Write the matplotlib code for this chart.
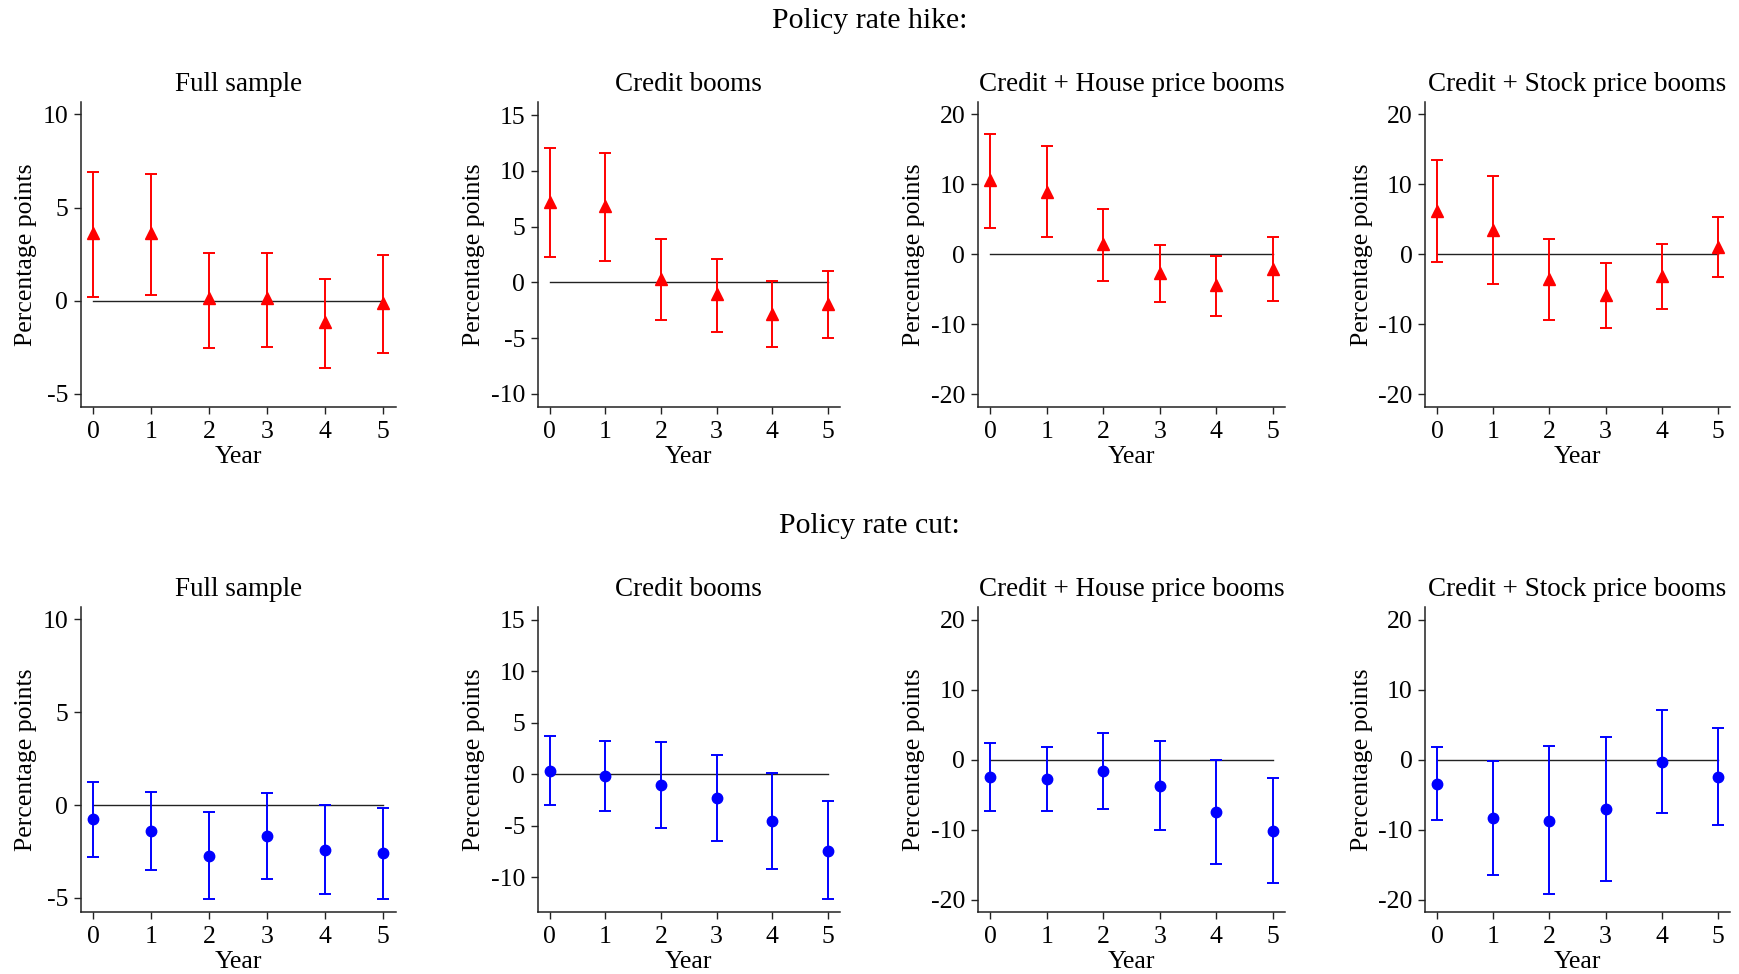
import matplotlib
matplotlib.use("Agg")
import matplotlib.pyplot as plt

plt.rcParams['font.family'] = ['Liberation Serif', 'DejaVu Serif']
plt.rcParams['axes.unicode_minus'] = False

years = [0, 1, 2, 3, 4, 5]
panel_titles = ["Full sample", "Credit booms", "Credit + House price booms", "Credit + Stock price booms"]
row_titles = ["Policy rate hike:", "Policy rate cut:"]

# Policy rate hike
hike_full_est = [3.61, 3.61, 0.13, 0.12, -1.16, -0.14]
hike_full_lo = [0.18, 0.29, -2.52, -2.47, -3.63, -2.83]
hike_full_hi = [6.92, 6.80, 2.56, 2.58, 1.16, 2.47]

hike_credit_est = [7.23, 6.82, 0.33, -1.07, -2.80, -1.93]
hike_credit_lo = [2.32, 1.93, -3.39, -4.43, -5.77, -4.97]
hike_credit_hi = [12.05, 11.58, 3.90, 2.14, 0.09, 1.04]

hike_house_est = [10.6, 8.95, 1.43, -2.71, -4.43, -2.10]
hike_house_lo = [3.8, 2.48, -3.86, -6.90, -8.81, -6.76]
hike_house_hi = [17.2, 15.4, 6.48, 1.33, -0.29, 2.48]

hike_stock_est = [6.24, 3.48, -3.52, -5.90, -3.19, 1.00]
hike_stock_lo = [-1.19, -4.33, -9.48, -10.5, -7.86, -3.33]
hike_stock_hi = [13.5, 11.2, 2.19, -1.33, 1.38, 5.29]

# Policy rate cut
cut_full_est = [-0.77, -1.38, -2.75, -1.67, -2.41, -2.60]
cut_full_lo = [-2.78, -3.48, -5.08, -3.97, -4.79, -5.04]
cut_full_hi = [1.24, 0.72, -0.38, 0.65, 0.0, -0.14]

cut_credit_est = [0.36, -0.16, -1.07, -2.27, -4.53, -7.41]
cut_credit_lo = [-2.98, -3.53, -5.18, -6.44, -9.22, -12.14]
cut_credit_hi = [3.72, 3.27, 3.11, 1.91, 0.13, -2.62]

cut_house_est = [-2.43, -2.77, -1.62, -3.72, -7.49, -10.16]
cut_house_lo = [-7.25, -7.39, -7.01, -10.06, -14.83, -17.55]
cut_house_hi = [2.43, 1.86, 3.86, 2.67, 0.0, -2.67]

cut_stock_est = [-3.39, -8.39, -8.68, -7.06, -0.33, -2.43]
cut_stock_lo = [-8.54, -16.5, -19.2, -17.3, -7.67, -9.35]
cut_stock_hi = [1.86, -0.19, 1.96, 3.24, 7.10, 4.53]

yticks_list = [[-5, 0, 5, 10], [-10, -5, 0, 5, 10, 15], [-20, -10, 0, 10, 20], [-20, -10, 0, 10, 20]]

rows = [
    [(hike_full_est, hike_full_lo, hike_full_hi), (hike_credit_est, hike_credit_lo, hike_credit_hi),
     (hike_house_est, hike_house_lo, hike_house_hi), (hike_stock_est, hike_stock_lo, hike_stock_hi)],
    [(cut_full_est, cut_full_lo, cut_full_hi), (cut_credit_est, cut_credit_lo, cut_credit_hi),
     (cut_house_est, cut_house_lo, cut_house_hi), (cut_stock_est, cut_stock_lo, cut_stock_hi)],
]

ylims = [
    [(-5.72, 10.68), (-11.2, 16.2), (-21.9, 21.8), (-21.9, 21.8)],
    [(-5.78, 10.65), (-13.4, 16.2), (-21.8, 21.8), (-21.8, 21.8)],
]

W, H = 1739, 974
fig = plt.figure(figsize=(W / 100, H / 100), dpi=100)

col_lr = [(80.7, 396.0), (537.7, 840.0), (977.7, 1285.3), (1425.0, 1730.0)]
row_tb = [(101.7, 407.3), (607.3, 912.3)]
styles = [dict(marker='^', color='#ff0000', ms=8), dict(marker='o', color='#0000ff', ms=7.5)]

fs = 18.5
for r in range(2):
    top, bot = row_tb[r]
    for c in range(4):
        left, right = col_lr[c]
        ax = fig.add_axes([left / W, 1 - bot / H, (right - left) / W, (bot - top) / H])
        est, lo, hi = rows[r][c]
        yerr = [[e - l for e, l in zip(est, lo)], [h - e for e, h in zip(est, hi)]]
        ax.plot([years[0], years[-1]], [0, 0], color='#222222', lw=1.0, zorder=1)
        st = styles[r]
        ax.errorbar(years, est, yerr=yerr, fmt=st['marker'], color=st['color'], ms=st['ms'],
                    ecolor=st['color'], elinewidth=1.4, capsize=4, capthick=1.4, zorder=3)
        ax.set_xlim(-0.22, 5.22)
        ax.set_ylim(*ylims[r][c])
        ax.set_xticks(years)
        ax.set_yticks(yticks_list[c])
        ax.spines['top'].set_visible(False)
        ax.spines['right'].set_visible(False)
        for s in ['left', 'bottom']:
            ax.spines[s].set_linewidth(1.1)
            ax.spines[s].set_color('#222222')
        ax.tick_params(direction='out', length=5, width=1.0, labelsize=fs, colors='#222222',
                       labelcolor='black', pad=4)
        ax.tick_params(axis='x', pad=5)
        ax.set_xlabel("Year", fontsize=fs, labelpad=2)
        ax.set_ylabel("Percentage points", fontsize=fs, labelpad=4)
        ax.set_title(panel_titles[c], fontsize=fs + 1, pad=8)

fig.text(0.5, 1 - 21 / H, row_titles[0], ha='center', va='center', fontsize=fs + 3)
fig.text(0.5, 1 - 526 / H, row_titles[1], ha='center', va='center', fontsize=fs + 3)

fig.savefig("out.png", dpi=100)
